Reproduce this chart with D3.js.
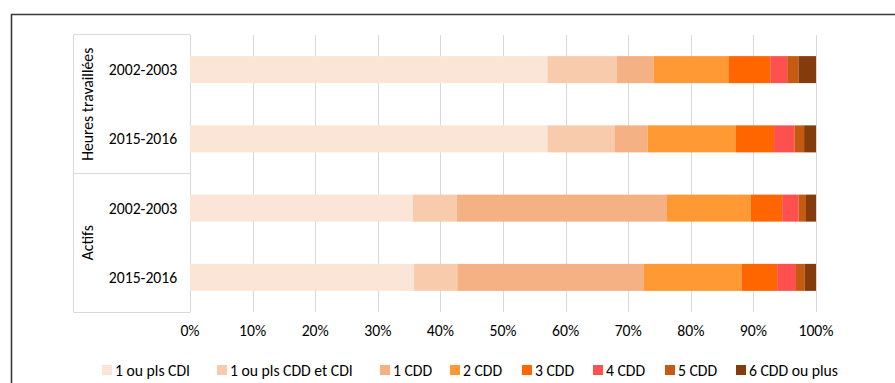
<!DOCTYPE html>
<html>
<head>
<meta charset="utf-8">
<script src="https://cdn.jsdelivr.net/npm/d3@7"></script>
<style>
body { margin: 0; background: #fff; }
text { font-family: Carlito, Calibri, Lato, "Open Sans", sans-serif; fill: #000; }
</style>
</head>
<body>
<div id="chart"></div>
<script>
// categories (top to bottom)
var groups = ['Heures travaillées', 'Actifs']
var periods = ['2002-2003', '2015-2016']
var rows = ['h0203', 'h1516', 'a0203', 'a1516']
var series = ['1 ou pls CDI', '1 ou pls CDD et CDI', '1 CDD', '2 CDD', '3 CDD', '4 CDD', '5 CDD', '6 CDD ou plus']
var colors = ['#fbe5d6', '#f8cbad', '#f4b183', '#ff9933', '#ff6600', '#ff5050', '#c55a11', '#843c0c']
// values in %, one array per row, in series order
var h0203 = [57.1, 11.1, 5.9, 12.0, 6.6, 2.7, 1.8, 2.8]
var h1516 = [57.1, 10.7, 5.3, 14.1, 6.1, 3.3, 1.5, 1.9]
var a0203 = [35.6, 7.0, 33.6, 13.4, 5.0, 2.6, 1.2, 1.6]
var a1516 = [35.8, 6.9, 29.8, 15.6, 5.7, 3.0, 1.4, 1.8]
var values = [h0203, h1516, a0203, a1516]
var ticks = [0, 10, 20, 30, 40, 50, 60, 70, 80, 90, 100]

var width = 895
var height = 383
var fs = 15.7
var svg = d3.select('#chart')
    .append('svg')
    .attr('width', width)
    .attr('height', height)

// outer frame (top and left only visible)
svg.append('path')
    .attr('d', 'M11.5,' + height + 'V14.5H' + width)
    .attr('fill', 'none')
    .attr('stroke', '#3a3a3a')
    .attr('stroke-width', 1.6)

var x = d3.scaleLinear().domain([0, 100]).range([190, 816])
var y = d3.scaleBand().domain(rows).range([35, 312]).paddingInner(0.61).paddingOuter(0.305)

// gridlines
svg.selectAll('.grid')
    .data(ticks)
    .enter()
    .append('line')
    .attr('x1', function(d){ return Math.round(x(d)) + 0.5 })
    .attr('x2', function(d){ return Math.round(x(d)) + 0.5 })
    .attr('y1', 35)
    .attr('y2', 312)
    .attr('stroke', '#d9d9d9')
    .attr('stroke-width', 1)

// stacked bars
var stacked = values.map(function(v, r){
    var acc = 0
    return v.map(function(d, i){
        var seg = {row: rows[r], i: i, x0: acc, x1: acc + d}
        acc += d
        return seg
    })
})
svg.selectAll('.row')
    .data(stacked)
    .enter()
    .append('g')
    .selectAll('rect')
    .data(function(d){ return d })
    .enter()
    .append('rect')
    .attr('x', function(d){ return x(d.x0) })
    .attr('width', function(d){ return x(d.x1) - x(d.x0) })
    .attr('y', function(d){ return y(d.row) })
    .attr('height', y.bandwidth())
    .attr('fill', function(d){ return colors[d.i] })

// category axis box
var bandH = (312 - 35) / 4
svg.append('path')
    .attr('d', 'M190.5,34.5H73.5V312.5H190.5M73.5,173.5H190.5')
    .attr('fill', 'none')
    .attr('stroke', '#d9d9d9')
    .attr('stroke-width', 1)

svg.selectAll('.period')
    .data(rows)
    .enter()
    .append('text')
    .attr('x', 143)
    .attr('y', function(d){ return y(d) + y.bandwidth() / 2 })
    .attr('dy', '0.35em')
    .attr('text-anchor', 'middle')
    .attr('font-size', fs)
    .text(function(d, i){ return periods[i % 2] })

svg.selectAll('.group')
    .data(groups)
    .enter()
    .append('text')
    .attr('transform', function(d, i){
        return 'translate(87,' + (35 + bandH * (2 * i + 1)) + ') rotate(-90)'
    })
    .attr('dy', '0.35em')
    .attr('text-anchor', 'middle')
    .attr('font-size', fs)
    .text(function(d){ return d })

// value axis labels
svg.selectAll('.tick')
    .data(ticks)
    .enter()
    .append('text')
    .attr('x', function(d){ return x(d) })
    .attr('y', 331)
    .attr('dy', '0.35em')
    .attr('text-anchor', 'middle')
    .attr('font-size', fs)
    .text(function(d){ return d + '%' })

// legend
var legendX = [102, 217, 380, 450, 522, 593, 665, 736]
var lg = svg.selectAll('.legend')
    .data(series)
    .enter()
    .append('g')
    .attr('transform', function(d, i){ return 'translate(' + legendX[i] + ',370)' })
lg.append('rect')
    .attr('x', 0)
    .attr('y', -5)
    .attr('width', 10)
    .attr('height', 10)
    .attr('fill', function(d, i){ return colors[i] })
lg.append('text')
    .attr('x', 13)
    .attr('dy', '0.35em')
    .attr('font-size', fs)
    .text(function(d){ return d })
</script>
</body>
</html>
